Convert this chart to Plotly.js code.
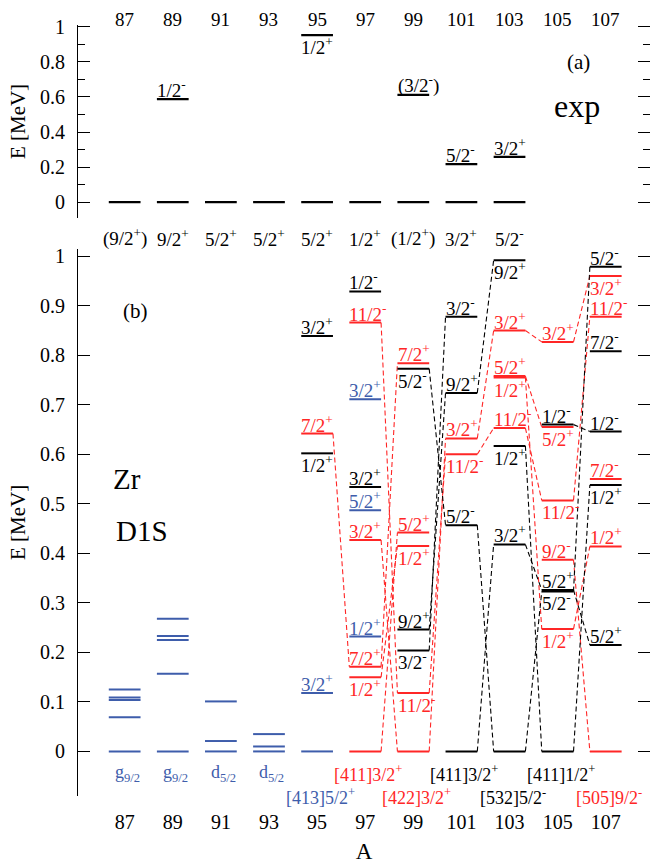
<!DOCTYPE html>
<html><head><meta charset="utf-8">
<script src="https://cdn.plot.ly/plotly-3.0.1.min.js"></script>
<style>html,body{margin:0;padding:0;background:#fff}</style>
</head><body>
<div id="plot" style="width:650px;height:867px"></div>
<script>
// ---------- DATA ----------
const massNumbers = [87, 89, 91, 93, 95, 97, 99, 101, 103, 105, 107];

// (a) experiment
const expA    = [87, 89, 91, 93, 95, 97, 99, 101, 103, 89, 95, 99, 101, 103];
const expE    = [0, 0, 0, 0, 0, 0, 0, 0, 0, 0.588, 0.954, 0.612, 0.217, 0.258];
const expJ    = ['(9/2+)', '9/2+', '5/2+', '5/2+', '5/2+', '1/2+', '(1/2+)', '3/2+', '5/2-',
                 '1/2-', '1/2+', '(3/2-)', '5/2-', '3/2+'];
const expSide = ['g','g','g','g','g','g','g','g','g','a','b','a','a','a'];

// (b) D1S - blue (spherical / [413]5/2+ family)
const blueA = [87, 87, 87, 87, 87, 89, 89, 89, 89, 89, 91, 91, 91, 93, 93, 93, 95, 95, 97, 97, 97];
const blueE = [0, 0.069, 0.104, 0.109, 0.125, 0, 0.157, 0.225, 0.233, 0.268, 0, 0.021, 0.101,
               0, 0.010, 0.035, 0, 0.118, 0.711, 0.487, 0.232];
const blueJ = ['', '', '', '', '', '', '', '', '', '', '', '', '', '', '', '', '', '3/2+', '3/2+', '5/2+', '1/2+'];
const blueSide = ['','','','','','','','','','','','','','','','','','a','a','a','a'];

// (b) D1S - red
const redA = [95, 97, 97, 97, 97, 97, 99, 99, 99, 99, 99, 101, 101, 103, 103, 103, 103,
              105, 105, 105, 105, 105, 107, 107, 107, 107, 107];
const redE = [0.642, 0.866, 0.427, 0.171, 0.150, 0, 0.784, 0.442, 0.415, 0.118, 0, 0.632, 0.600,
              0.850, 0.758, 0.755, 0.653, 0.827, 0.655, 0.507, 0.387, 0.247,
              0.960, 0.878, 0.550, 0.414, 0];
const redJ = ['7/2+', '11/2-', '3/2+', '7/2+', '1/2+', '', '7/2+', '5/2+', '1/2+', '11/2-', '',
              '3/2+', '11/2-', '3/2+', '5/2+', '1/2+', '11/2-', '3/2+', '5/2+', '11/2-', '9/2-', '1/2+',
              '3/2+', '11/2-', '7/2-', '1/2+', ''];
const redSide = ['a','a','a','a','b','','a','a','b','b','','a','b','a','a','b','a','a','b','b','a','b',
                 'b','a','a','a',''];

// (b) D1S - black
const blackA = [95, 95, 97, 97, 99, 99, 99, 101, 101, 101, 101, 103, 103, 103, 103,
                105, 105, 105, 105, 107, 107, 107, 107, 107];
const blackE = [0.839, 0.602, 0.929, 0.534, 0.773, 0.246, 0.204, 0.878, 0.724, 0.457, 0,
                0.992, 0.617, 0.418, 0, 0.660, 0.326, 0.323, 0, 0.979, 0.808, 0.646, 0.538, 0.215];
const blackJ = ['3/2+', '1/2+', '1/2-', '3/2+', '5/2-', '9/2+', '3/2-', '3/2-', '9/2+', '5/2-', '',
                '9/2+', '1/2+', '3/2+', '', '1/2-', '5/2+', '5/2-', '', '5/2-', '7/2-', '1/2-', '1/2+', '5/2+'];
const blackSide = ['a','b','a','a','b','a','b','a','a','a','','b','b','a','','a','a','b','',
                   'a','a','a','b','a'];

// connections [A1, E1, A2, E2]
const redLinks = [
  [95, 0.642, 97, 0.171], [97, 0.866, 99, 0.118], [97, 0.427, 99, 0], [97, 0.171, 99, 0.784],
  [97, 0.150, 99, 0.415], [97, 0, 99, 0.442], [99, 0.118, 101, 0.600], [99, 0, 101, 0.632],
  [101, 0.632, 103, 0.850], [101, 0.600, 103, 0.653], [103, 0.850, 105, 0.827],
  [103, 0.758, 105, 0.655], [103, 0.653, 105, 0.507], [103, 0.755, 105, 0.247],
  [105, 0.827, 107, 0.960], [105, 0.507, 107, 0.878], [105, 0.247, 107, 0.414], [105, 0.387, 107, 0]
];
const blackLinks = [
  [99, 0.773, 101, 0.457], [99, 0.246, 101, 0.724], [99, 0.204, 101, 0.878],
  [101, 0.724, 103, 0.992], [101, 0.457, 103, 0], [101, 0, 103, 0.418],
  [103, 0.617, 105, 0], [103, 0, 105, 0.323], [103, 0.418, 105, 0.326],
  [105, 0.660, 107, 0.646], [105, 0.326, 107, 0.215], [105, 0.323, 107, 0.979], [105, 0, 107, 0.538]
];

// band-head labels under panel (b)
const bandA      = [87, 89, 91, 93, 95, 97, 99, 101, 103, 105, 107];
const bandText   = ['g_9/2', 'g_9/2', 'd_5/2', 'd_5/2', '[413]5/2+', '[411]3/2+', '[422]3/2+',
                    '[411]3/2+', '[532]5/2-', '[411]1/2+', '[505]9/2-'];
const bandSeries = ['blue','blue','blue','blue','blue','red','red','black','black','black','red'];
const bandRow    = [1, 1, 1, 1, 2, 1, 2, 1, 2, 1, 2];

// ---------- STYLE ----------
const COL = {blue: '#3e5dab', red: '#ff2626', black: '#000000'};
const HW = 0.66;            // half width of a level bar (in A units)
const FONT = 'Liberation Serif';
const LFS = 19;             // level label font size
const RANGE_B = [-0.09, 1.015];
const RANGE_A = [-0.09, 1.01];

function fmtJ(s) { return s.replace(/([+-])/g, '<sup>$1</sup>'); }
function fmtBand(s) {
  if (s.indexOf('_') >= 0) { const p = s.split('_'); return p[0] + '<sub>' + p[1] + '</sub>'; }
  return fmtJ(s);
}
// energy -> fraction of axis domain (lets texts sit outside the axis range)
function dom(E, r) { return (E - r[0]) / (r[1] - r[0]); }

function levelTrace(A, E, color, xa, ya, w) {
  const x = [], y = [];
  for (let i = 0; i < A.length; i++) { x.push(A[i] - HW, A[i] + HW, null); y.push(E[i], E[i], null); }
  return {type: 'scatter', mode: 'lines', x, y, xaxis: xa, yaxis: ya,
          line: {color, width: w || 2}, hoverinfo: 'skip', showlegend: false};
}
function linkTrace(L, color) {
  const x = [], y = [];
  L.forEach(l => { x.push(l[0] + HW, l[2] - HW, null); y.push(l[1], l[3], null); });
  return {type: 'scatter', mode: 'lines', x, y, xaxis: 'x', yaxis: 'y',
          line: {color, width: 1.1, dash: '5px,3px'}, hoverinfo: 'skip', showlegend: false};
}

const traces = [
  linkTrace(redLinks, COL.red), linkTrace(blackLinks, COL.black),
  levelTrace(blueA, blueE, COL.blue, 'x', 'y'),
  levelTrace(redA, redE, COL.red, 'x', 'y'),
  levelTrace(blackA, blackE, COL.black, 'x', 'y'),
  levelTrace(expA, expE, COL.black, 'x2', 'y2', 2.3)
];

const ann = [];
function levelLabels(A, E, J, side, color, xr, yr) {
  for (let i = 0; i < A.length; i++) {
    if (!J[i] || side[i] === 'g') continue;
    const above = side[i] === 'a';
    ann.push({xref: xr, yref: yr, x: A[i] - HW - 0.08, y: E[i], xanchor: 'left',
      yanchor: above ? 'bottom' : 'top', yshift: above ? -4 : 3,
      text: fmtJ(J[i]), showarrow: false, font: {family: FONT, size: LFS, color}});
  }
}
levelLabels(blueA, blueE, blueJ, blueSide, COL.blue, 'x', 'y');
levelLabels(redA, redE, redJ, redSide, COL.red, 'x', 'y');
levelLabels(blackA, blackE, blackJ, blackSide, COL.black, 'x', 'y');
levelLabels(expA, expE, expJ, expSide, COL.black, 'x2', 'y2');
// exp ground-state spins below panel (a)
for (let i = 0; i < expA.length; i++) {
  if (expSide[i] !== 'g') continue;
  ann.push({xref: 'x2', yref: 'y2 domain', x: expA[i], y: dom(-0.205, RANGE_A), xanchor: 'center',
    yanchor: 'middle', text: fmtJ(expJ[i]), showarrow: false, font: {family: FONT, size: LFS, color: '#000'}});
}
// band heads below panel (b)
for (let i = 0; i < bandA.length; i++) {
  ann.push({xref: 'x', yref: 'y domain', x: bandA[i], xshift: 3,
    y: dom(bandRow[i] === 1 ? -0.045 : -0.091, RANGE_B),
    xanchor: 'center', yanchor: 'middle', text: fmtBand(bandText[i]), showarrow: false,
    font: {family: FONT, size: 18, color: COL[bandSeries[i]]}});
}
// mass numbers on top of panel (a)
massNumbers.forEach(a => ann.push({xref: 'x2', yref: 'y2 domain', x: a, y: dom(1.045, RANGE_A),
  xanchor: 'center', yanchor: 'middle', text: String(a), showarrow: false,
  font: {family: FONT, size: 19, color: '#000'}}));
// panel texts
ann.push({xref: 'x2', yref: 'y2', x: 105.85, y: 0.80, text: '(a)', showarrow: false,
  font: {family: FONT, size: 21, color: '#000'}});
ann.push({xref: 'x2', yref: 'y2', x: 105.8, y: 0.55, text: 'exp', showarrow: false,
  font: {family: FONT, size: 32, color: '#000'}});
ann.push({xref: 'x', yref: 'y', x: 87.45, y: 0.89, text: '(b)', showarrow: false,
  font: {family: FONT, size: 21, color: '#000'}});
ann.push({xref: 'x', yref: 'y', x: 86.45, y: 0.55, xanchor: 'left', text: 'Zr', showarrow: false,
  font: {family: FONT, size: 29, color: '#000'}});
ann.push({xref: 'x', yref: 'y', x: 86.55, y: 0.445, xanchor: 'left', text: 'D1S', showarrow: false,
  font: {family: FONT, size: 29, color: '#000'}});

const yCommon = {showline: true, linecolor: '#000', linewidth: 1, mirror: 'ticks', ticks: 'inside',
  ticklen: 12, tickcolor: '#000', showgrid: false, zeroline: false,
  tickfont: {family: FONT, size: 20, color: '#000'}, ticklabelstandoff: 8};

const layout = {
  width: 650, height: 867, margin: {l: 78, r: 0, t: 0, b: 0},
  paper_bgcolor: '#fff', plot_bgcolor: '#fff', showlegend: false,
  font: {family: FONT, color: '#000'},
  xaxis: {domain: [0, 1], range: [85.06, 108.84], anchor: 'y', tickvals: massNumbers, ticks: '',
    showline: false, showgrid: false, zeroline: false, ticklabelstandoff: 12,
    tickfont: {family: FONT, size: 20, color: '#000'},
    title: {text: 'A', font: {family: FONT, size: 23, color: '#000'}, standoff: 10}},
  xaxis2: {domain: [0, 1], matches: 'x', anchor: 'y2', showticklabels: false, ticks: '',
    showline: false, showgrid: false, zeroline: false},
  yaxis: Object.assign({}, yCommon, {domain: [0.0819, 0.713], range: RANGE_B, dtick: 0.1,
    title: {text: 'E [MeV]', font: {family: FONT, size: 21, color: '#000'}, standoff: 8}}),
  yaxis2: Object.assign({}, yCommon, {domain: [0.7488, 0.9709], range: RANGE_A, dtick: 0.2,
    minor: {dtick: 0.1, ticks: 'inside', ticklen: 7, tickcolor: '#000'},
    title: {text: 'E [MeV]', font: {family: FONT, size: 21, color: '#000'}, standoff: 8}}),
  annotations: ann
};

Plotly.newPlot('plot', traces, layout, {staticPlot: true, displayModeBar: false});
</script>
</body></html>
